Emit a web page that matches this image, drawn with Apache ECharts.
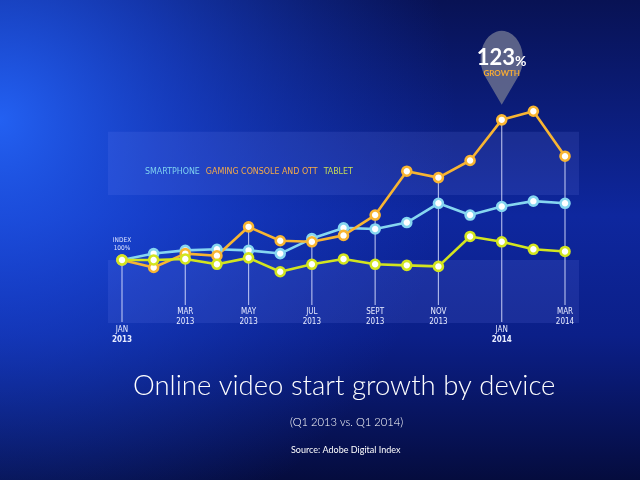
<!DOCTYPE html>
<html>
<head>
<meta charset="utf-8">
<script src="https://cdn.jsdelivr.net/npm/echarts@6/dist/echarts.min.js"></script>
<style>
  html, body { margin: 0; padding: 0; background: #0a1660; }
  #chart { width: 640px; height: 480px; }
</style>
</head>
<body>
<div id="chart"></div>
<script>
// months Jan 2013 .. Mar 2014, index (Jan 2013 = 100)
const months = ['JAN 2013', 'FEB 2013', 'MAR 2013', 'APR 2013', 'MAY 2013', 'JUN 2013', 'JUL 2013',
  'AUG 2013', 'SEPT 2013', 'OCT 2013', 'NOV 2013', 'DEC 2013', 'JAN 2014', 'FEB 2014', 'MAR 2014'];
const smartphone = [100, 106, 109, 110, 109, 106, 120, 130, 129, 135, 153, 142, 150, 155, 153];
const gaming = [100, 93, 106, 104, 131, 118, 117, 123, 142, 183, 177, 193, 231, 239, 197];
const tablet = [100, 100, 101, 96, 102, 89, 96, 101, 96, 95, 94, 122, 117, 110, 108];

// labelled months: [index, month, year, low]
const tickLabels = [
  [0, 'JAN', '2013', true],
  [2, 'MAR', '2013', false],
  [4, 'MAY', '2013', false],
  [6, 'JUL', '2013', false],
  [8, 'SEPT', '2013', false],
  [10, 'NOV', '2013', false],
  [12, 'JAN', '2014', true],
  [14, 'MAR', '2014', false]
];
const growthLabel = '123';

const colors = {
  smartphone: '#86d6f0',
  gaming: '#f8b532',
  tablet: '#d3e51f'
};

const narrow = 'DejaVu Sans Condensed';

const chartDom = echarts.init(document.getElementById('chart'));

function lineSeries(name, data, color) {
  return {
    name: name,
    type: 'line',
    data: data,
    symbol: 'circle',
    symbolSize: 9,
    lineStyle: { color: color, width: 2.6 },
    itemStyle: { color: '#ffffff', borderColor: color, borderWidth: 2.6 },
    z: 3
  };
}

const dropData = tickLabels.map(function (t) {
  const i = t[0];
  return [i, Math.max(smartphone[i], gaming[i], tablet[i]), t[1], t[2], t[3] ? 1 : 0];
});

const pinPath = 'path://M5.79 45.05 A28 28 0 1 1 50.21 45.05 L28 74 Z';

const options = {
  backgroundColor: {
    type: 'linear', x: 0, y: 0, x2: 0, y2: 1,
    colorStops: [
      { offset: 0, color: '#081254' },
      { offset: 0.45, color: '#0e279e' },
      { offset: 0.7, color: '#0b1f88' },
      { offset: 1, color: '#050c3e' }
    ]
  },
  animation: false,
  grid: { left: 122, right: 75, top: 99.5, bottom: 145.1 },
  title: [{
    text: 'Online video start growth by device',
    left: 128,
    top: 367,
    textStyle: { color: '#ffffff', fontFamily: 'Lato', fontWeight: 300, fontSize: 27.5 }
  }, {
    text: '(Q1 2013 vs. Q1 2014)',
    left: 285,
    top: 412,
    textStyle: { color: '#ffffff', fontFamily: 'Lato', fontWeight: 300, fontSize: 11.2 }
  }, {
    text: 'Source: Adobe Digital Index',
    left: 286,
    top: 441,
    textStyle: { color: '#ffffff', fontFamily: 'Lato', fontWeight: 'normal', fontSize: 9 }
  }],
  legend: {
    left: 135,
    top: 162,
    itemWidth: 0,
    itemHeight: 0,
    itemGap: 1,
    icon: 'none',
    selectedMode: false,
    textStyle: { fontFamily: narrow, fontSize: 8.8 },
    data: [
      { name: 'SMARTPHONE', textStyle: { color: '#7fd2f0' } },
      { name: 'GAMING CONSOLE AND OTT', textStyle: { color: '#f6ab48' } },
      { name: 'TABLET', textStyle: { color: '#c9dd55' } }
    ]
  },
  graphic: [
    {
      type: 'rect', shape: { x: 0, y: 0, width: 640, height: 480 }, z: -2, silent: true,
      style: {
        fill: {
          type: 'radial', x: 0.0, y: 0.25, r: 0.95,
          colorStops: [
            { offset: 0, color: 'rgba(36,100,248,0.95)' },
            { offset: 0.4, color: 'rgba(28,78,230,0.6)' },
            { offset: 1, color: 'rgba(20,60,200,0)' }
          ]
        }
      }
    },
    { type: 'rect', shape: { x: 108, y: 131.7, width: 471, height: 63.3 }, style: { fill: 'rgba(130,150,255,0.13)' }, z: -1 },
    { type: 'rect', shape: { x: 108, y: 260, width: 471, height: 63 }, style: { fill: 'rgba(130,150,255,0.13)' }, z: -1 }
  ],
  xAxis: {
    type: 'category',
    data: months,
    boundaryGap: false,
    show: false
  },
  yAxis: {
    type: 'value',
    min: 30,
    max: 250,
    show: false
  },
  series: [
    {
      type: 'custom',
      data: dropData,
      z: 1,
      silent: true,
      renderItem: function (params, api) {
        const top = api.coord([api.value(0), api.value(1)]);
        const base = api.coord([api.value(0), 100]);
        const low = api.value(4) === 1;
        const end = base[1] + (low ? 62 : 45);
        const ty = base[1] + (low ? 66 : 48);
        return {
          type: 'group',
          children: [{
            type: 'line',
            shape: { x1: top[0], y1: top[1], x2: top[0], y2: end },
            style: { stroke: 'rgba(220,225,255,0.75)', lineWidth: 1.2 }
          }, {
            type: 'text',
            style: {
              x: top[0], y: ty, text: api.value(2), align: 'center', verticalAlign: 'top',
              fill: '#e8ecff', font: '8px "' + narrow + '"'
            }
          }, {
            type: 'text',
            style: {
              x: top[0], y: ty + 10, text: api.value(3), align: 'center', verticalAlign: 'top',
              fill: '#e8ecff', font: (low ? 'bold ' : '') + '8px "' + narrow + '"'
            }
          }]
        };
      }
    },
    Object.assign(lineSeries('SMARTPHONE', smartphone, colors.smartphone), {
      markPoint: {
        symbol: 'circle',
        symbolSize: 0,
        silent: true,
        label: {
          show: true,
          position: 'top',
          distance: 8,
          formatter: 'INDEX\n100%',
          color: '#dfe6ff',
          fontFamily: narrow,
          fontSize: 6.5,
          lineHeight: 8
        },
        data: [{ coord: [0, smartphone[0]] }]
      }
    }),
    Object.assign(lineSeries('GAMING CONSOLE AND OTT', gaming, colors.gaming), {
      markPoint: {
        symbol: pinPath,
        symbolSize: [56, 74],
        symbolKeepAspect: true,
        symbolOffset: [0, -52],
        silent: true,
        itemStyle: { color: 'rgba(105,110,142,0.85)' },
        label: {
          show: true,
          position: 'inside',
          offset: [0, -5],
          formatter: '{a|' + growthLabel + '}{b|%}\n{c|GROWTH}',
          rich: {
            a: { color: '#ffffff', fontFamily: 'Lato', fontWeight: 'bold', fontSize: 22, lineHeight: 22 },
            b: { color: '#ffffff', fontFamily: 'Lato', fontWeight: 'bold', fontSize: 14, lineHeight: 22, verticalAlign: 'bottom' },
            c: { color: '#f6ab35', fontFamily: 'Lato', fontWeight: 'bold', fontSize: 8, lineHeight: 10, align: 'center' }
          }
        },
        data: [{ coord: [12, gaming[12]] }]
      }
    }),
    lineSeries('TABLET', tablet, colors.tablet)
  ]
};

chartDom.setOption(options);
</script>
</body>
</html>
